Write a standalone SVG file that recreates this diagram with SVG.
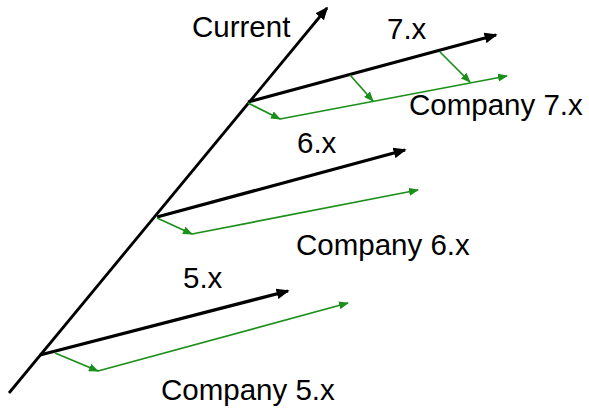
<svg xmlns="http://www.w3.org/2000/svg" width="589" height="410" viewBox="0 0 589 410">
<style>
.blk{stroke:#000;stroke-width:3.2;fill:none;marker-end:url(#ab)}
.main{stroke:#000;stroke-width:2.8;fill:none;marker-end:url(#ab)}
.grn{stroke:#1a8f1a;stroke-width:1.7;fill:none;marker-end:url(#ag)}
text{font-family:"Liberation Sans",Arial,sans-serif;font-size:29.5px;fill:#000}
</style>
<defs>
<marker id="ab" viewBox="0 0 12 10" markerUnits="userSpaceOnUse" markerWidth="13" markerHeight="11" refX="10.5" refY="5" orient="auto"><path d="M0,0 L12,5 L0,10 z" fill="#000"/></marker>
<marker id="ag" viewBox="0 0 10 8" markerUnits="userSpaceOnUse" markerWidth="10" markerHeight="8" refX="9" refY="4" orient="auto"><path d="M0,0 L10,4 L0,8 z" fill="#1a8f1a"/></marker>
</defs>
<rect width="589" height="410" fill="#fff"/>
<g id="connectors">
<line class="main" x1="9" y1="393" x2="327" y2="8"/>
<line class="blk" x1="248" y1="102" x2="496" y2="35"/>
<line class="blk" x1="157" y1="217" x2="405" y2="150"/>
<line class="blk" x1="40" y1="355" x2="288" y2="291"/>
<line class="grn" x1="248" y1="103" x2="280" y2="119"/>
<line class="grn" x1="280" y1="119" x2="507" y2="76"/>
<line class="grn" x1="350" y1="75" x2="373" y2="101"/>
<line class="grn" x1="440" y1="52" x2="470" y2="82"/>
<line class="grn" x1="157" y1="218" x2="192" y2="234"/>
<line class="grn" x1="192" y1="234" x2="418" y2="190"/>
<line class="grn" x1="55" y1="353" x2="98" y2="371"/>
<line class="grn" x1="98" y1="371" x2="348" y2="303"/>
</g>
<g id="current"><text x="192" y="37">Current</text></g>
<g id="v7"><text x="387" y="39">7.x</text></g>
<g id="company7"><text x="409" y="115">Company 7.x</text></g>
<g id="v6"><text x="297" y="153">6.x</text></g>
<g id="company6"><text x="296" y="255">Company 6.x</text></g>
<g id="v5"><text x="183" y="288">5.x</text></g>
<g id="company5"><text x="161" y="400">Company 5.x</text></g>
</svg>
